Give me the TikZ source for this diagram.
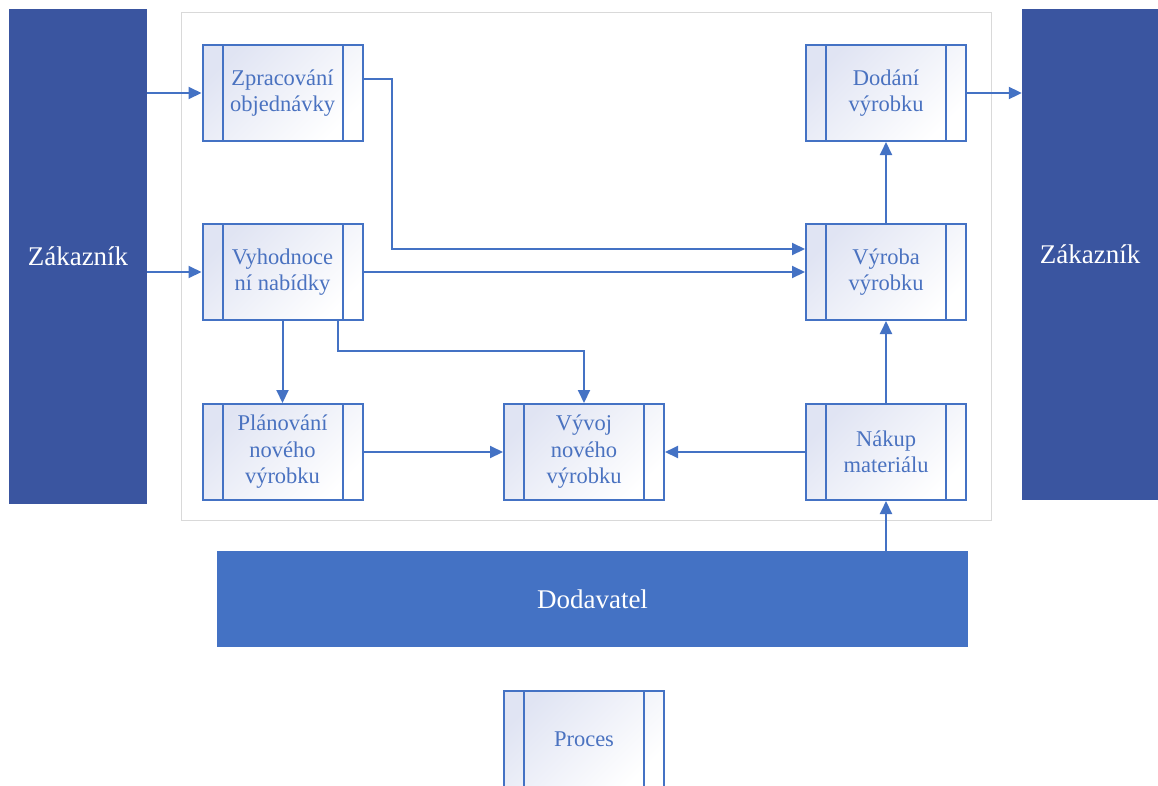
\documentclass[tikz,border=0pt]{standalone}
\usepackage{fontspec}
\setmainfont{Liberation Serif}
\usetikzlibrary{arrows.meta,calc}
\definecolor{zakblue}{HTML}{3A55A0}
\definecolor{dodblue}{HTML}{4472C4}
\definecolor{lineblue}{HTML}{4472C4}
\definecolor{txtblue}{HTML}{4A72C0}
\definecolor{procfill}{HTML}{E0E4F3}
\definecolor{frame}{HTML}{D9D9D9}
\tikzset{
  procbox/.style={draw=lineblue, line width=2pt, minimum width=160pt, minimum height=96pt,
    inner sep=0pt, align=center, text=txtblue, font=\fontsize{22.5}{26.5}\selectfont,
    top color=procfill, bottom color=white, shading angle=45,
    path picture={\draw[lineblue, line width=2pt]
      ([xshift=20pt]path picture bounding box.north west) -- ([xshift=20pt]path picture bounding box.south west)
      ([xshift=-20pt]path picture bounding box.north east) -- ([xshift=-20pt]path picture bounding box.south east);}},
  bigbox/.style={draw=none, inner sep=0pt, text=white, font=\fontsize{27}{31}\selectfont},
  arr/.style={draw=lineblue, line width=2pt, -{Triangle[length=13pt,width=12pt]}}
}
\begin{document}
\begin{tikzpicture}[x=1pt,y=-1pt]
\useasboundingbox (0,0) rectangle (1158,785);
\draw[frame, line width=1pt] (181,12) rectangle (991,520);
\node[bigbox, fill=zakblue, minimum width=138pt, minimum height=495pt] (lz) at (78,256.5) {Zákazník};
\node[bigbox, fill=zakblue, minimum width=136pt, minimum height=491pt] (rz) at (1090,254.5) {Zákazník};
\node[bigbox, fill=dodblue, minimum width=751pt, minimum height=96pt] (dv) at (592.5,599) {Dodavatel};

\node[procbox] (zp) at (282.5,93) {Zpracování\\objednávky};
\node[procbox] (do) at (886,93) {Dodání\\výrobku};
\node[procbox] (vh) at (282.5,272) {Vyhodnoce\\ní nabídky};
\node[procbox] (vy) at (886,272) {Výroba\\výrobku};
\node[procbox] (pl) at (282.5,452) {Plánování\\nového\\výrobku};
\node[procbox] (vv) at (584,452) {Vývoj\\nového\\výrobku};
\node[procbox] (nk) at (886,452) {Nákup\\materiálu};
\node[procbox] (pr) at (584,739) {Proces};

\draw[arr] (lz.east |- zp.west) -- (zp.west);
\draw[arr] (lz.east |- vh.west) -- (vh.west);
\draw[arr] (do.east) -- (rz.west |- do.east);
\draw[arr] ([yshift=14pt]zp.east) -- ++(28,0) |- ([yshift=23pt]vy.west);
\draw[arr] (vh.east) -- (vy.west);
\draw[arr] (vh.south) -- (pl.north);
\draw[arr] ([xshift=55.5pt]vh.south) -- ++(0,30) -| (vv.north);
\draw[arr] (pl.east) -- (vv.west);
\draw[arr] (nk.west) -- (vv.east);
\draw[arr] (nk.north) -- (vy.south);
\draw[arr] (vy.north) -- (do.south);
\draw[arr] (dv.north -| nk.south) -- (nk.south);
\end{tikzpicture}
\end{document}
